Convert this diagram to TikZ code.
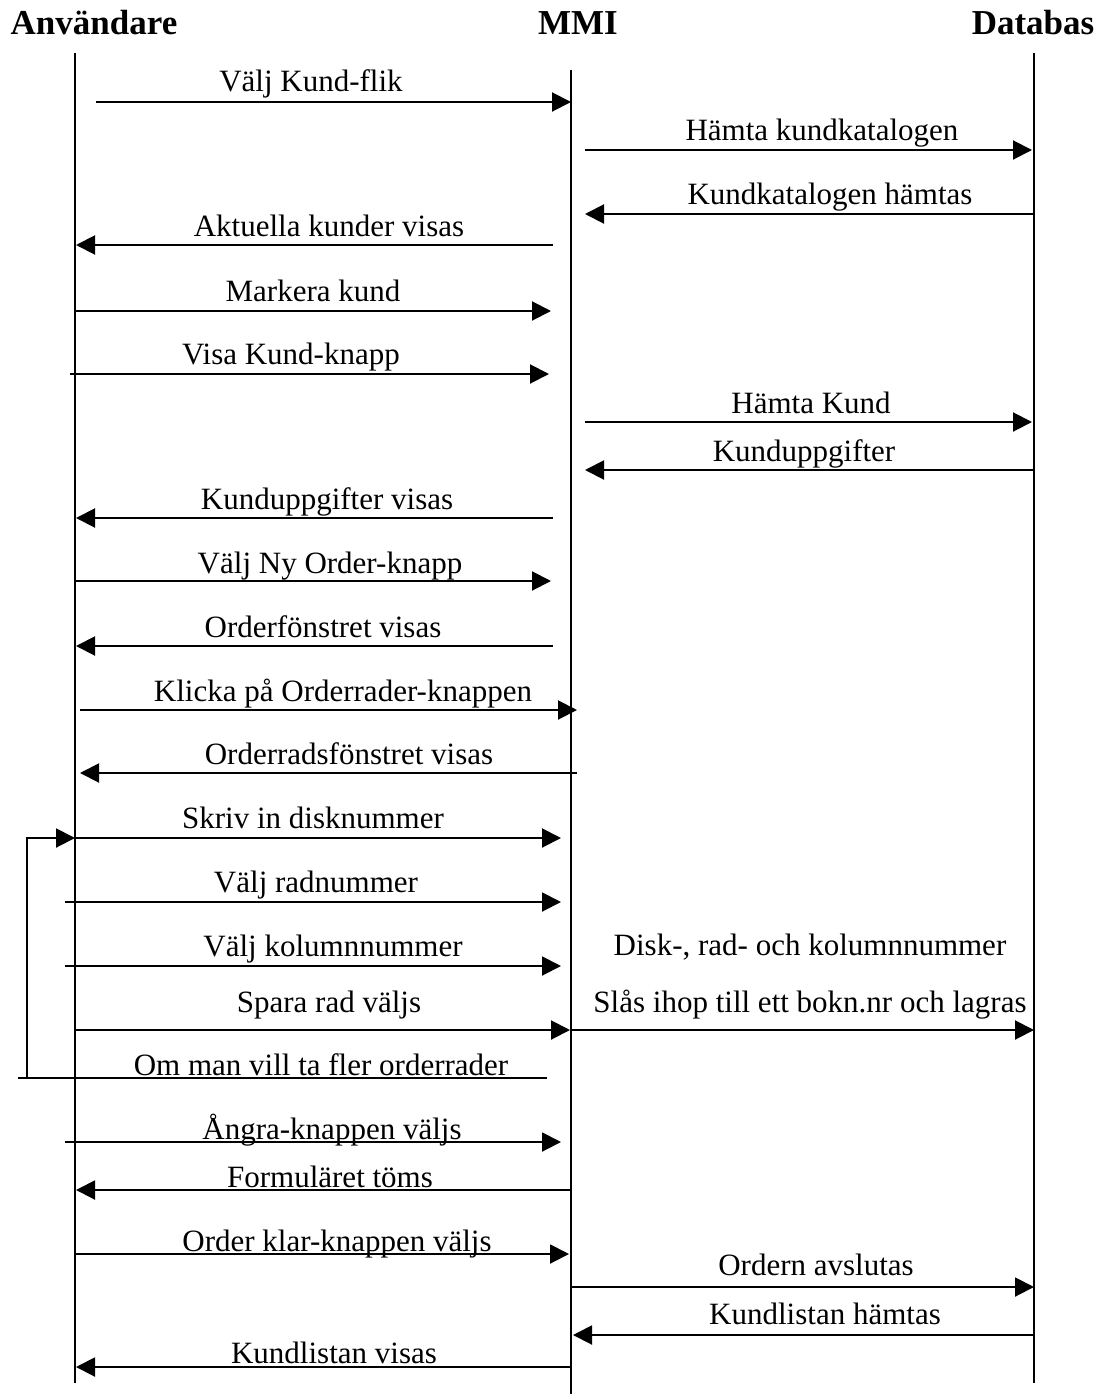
\documentclass[tikz,border=0pt]{standalone}
\usepackage{fontspec}
\setmainfont{Liberation Serif}
\usetikzlibrary{arrows.meta}
\begin{document}
\begin{tikzpicture}[x=1pt,y=-1pt,
  life/.style={line width=2pt},
  msg/.style={line width=2pt,-{Triangle[length=19pt,width=19pt]}},
  plainline/.style={line width=2pt},
  lbl/.style={anchor=base,inner sep=0pt,font=\fontsize{31}{36}\selectfont},
  hdr/.style={anchor=base,inner sep=0pt,font=\fontsize{35}{40}\selectfont\bfseries}]
\useasboundingbox (0,0) rectangle (1108,1394);

% headers
\node[hdr] (hA) at (94,35) {Användare};
\node[hdr] (hM) at (578,35) {MMI};
\node[hdr] (hD) at (1033,35) {Databas};

% lifelines
\coordinate (At) at (75,53);   \coordinate (Ab) at (75,1383);
\coordinate (Mt) at (571,70);  \coordinate (Mb) at (571,1394);
\coordinate (Dt) at (1034,53); \coordinate (Db) at (1034,1383);
\draw[life] (At) -- (Ab);
\draw[life] (Mt) -- (Mb);
\draw[life] (Dt) -- (Db);

% 1
\coordinate (a1) at (96,102);  \coordinate (b1) at (571,102);
\draw[msg] (a1) -- (b1);
\node[lbl] (t1) at (311,92) {Välj Kund-flik};
% 2
\coordinate (a2) at (585,150); \coordinate (b2) at (1032,150);
\draw[msg] (a2) -- (b2);
\node[lbl] (t2) at (822,141) {Hämta kundkatalogen};
% 3
\coordinate (a3) at (1034,214); \coordinate (b3) at (585,214);
\draw[msg] (a3) -- (b3);
\node[lbl] (t3) at (830,204) {Kundkatalogen hämtas};
% 4
\coordinate (a4) at (553,245); \coordinate (b4) at (76,245);
\draw[msg] (a4) -- (b4);
\node[lbl] (t4) at (329,236) {Aktuella kunder visas};
% 5
\coordinate (a5) at (75,311); \coordinate (b5) at (551,311);
\draw[msg] (a5) -- (b5);
\node[lbl] (t5) at (313,301) {Markera kund};
% 6
\coordinate (a6) at (70,374); \coordinate (b6) at (549,374);
\draw[msg] (a6) -- (b6);
\node[lbl] (t6) at (291,364) {Visa Kund-knapp};
% 7
\coordinate (a7) at (585,422); \coordinate (b7) at (1032,422);
\draw[msg] (a7) -- (b7);
\node[lbl] (t7) at (811,413) {Hämta Kund};
% 8
\coordinate (a8) at (1034,470); \coordinate (b8) at (585,470);
\draw[msg] (a8) -- (b8);
\node[lbl] (t8) at (804,461) {Kunduppgifter};
% 9
\coordinate (a9) at (553,518); \coordinate (b9) at (76,518);
\draw[msg] (a9) -- (b9);
\node[lbl] (t9) at (327,509) {Kunduppgifter visas};
% 10
\coordinate (a10) at (75,581); \coordinate (b10) at (551,581);
\draw[msg] (a10) -- (b10);
\node[lbl] (t10) at (330,573) {Välj Ny Order-knapp};
% 11
\coordinate (a11) at (553,646); \coordinate (b11) at (76,646);
\draw[msg] (a11) -- (b11);
\node[lbl] (t11) at (323,637) {Orderfönstret visas};
% 12
\coordinate (a12) at (80,710); \coordinate (b12) at (577,710);
\draw[msg] (a12) -- (b12);
\node[lbl] (t12) at (343,701) {Klicka på Orderrader-knappen};
% 13
\coordinate (a13) at (577,773); \coordinate (b13) at (80,773);
\draw[msg] (a13) -- (b13);
\node[lbl] (t13) at (349,764) {Orderradsfönstret visas};
% 14
\coordinate (a14) at (75,838); \coordinate (b14) at (561,838);
\draw[msg] (a14) -- (b14);
\node[lbl] (t14) at (313,828) {Skriv in disknummer};
% 15
\coordinate (a15) at (65,902); \coordinate (b15) at (561,902);
\draw[msg] (a15) -- (b15);
\node[lbl] (t15) at (316,892) {Välj radnummer};
% 16
\coordinate (a16) at (65,966); \coordinate (b16) at (561,966);
\draw[msg] (a16) -- (b16);
\node[lbl] (t16) at (333,956) {Välj kolumnnummer};
% 17
\coordinate (a17) at (75,1030); \coordinate (b17) at (570,1030);
\draw[msg] (a17) -- (b17);
\node[lbl] (t17) at (329,1012) {Spara rad väljs};
% 18
\coordinate (a18) at (571,1030); \coordinate (b18) at (1034,1030);
\draw[msg] (a18) -- (b18);
\node[lbl] (t18a) at (810,955) {Disk-, rad- och kolumnnummer};
\node[lbl] (t18b) at (810,1012) {Slås ihop till ett bokn.nr och lagras};
% 19 loop
\coordinate (a19) at (547,1078); \coordinate (b19) at (18,1078);
\coordinate (c19) at (27,1078);
\draw[plainline] (a19) -- (b19);
\draw[msg] (c19) |- (a14);
\node[lbl] (t19) at (321,1075) {Om man vill ta fler orderrader};
% 20
\coordinate (a20) at (65,1142); \coordinate (b20) at (561,1142);
\draw[msg] (a20) -- (b20);
\node[lbl] (t20) at (332,1139) {Ångra-knappen väljs};
% 21
\coordinate (a21) at (571,1190); \coordinate (b21) at (76,1190);
\draw[msg] (a21) -- (b21);
\node[lbl] (t21) at (330,1187) {Formuläret töms};
% 22
\coordinate (a22) at (75,1254); \coordinate (b22) at (569,1254);
\draw[msg] (a22) -- (b22);
\node[lbl] (t22) at (337,1251) {Order klar-knappen väljs};
% 23
\coordinate (a23) at (571,1287); \coordinate (b23) at (1034,1287);
\draw[msg] (a23) -- (b23);
\node[lbl] (t23) at (816,1275) {Ordern avslutas};
% 24
\coordinate (a24) at (1034,1335); \coordinate (b24) at (573,1335);
\draw[msg] (a24) -- (b24);
\node[lbl] (t24) at (825,1324) {Kundlistan hämtas};
% 25
\coordinate (a25) at (571,1367); \coordinate (b25) at (76,1367);
\draw[msg] (a25) -- (b25);
\node[lbl] (t25) at (334,1363) {Kundlistan visas};
\end{tikzpicture}
\end{document}
